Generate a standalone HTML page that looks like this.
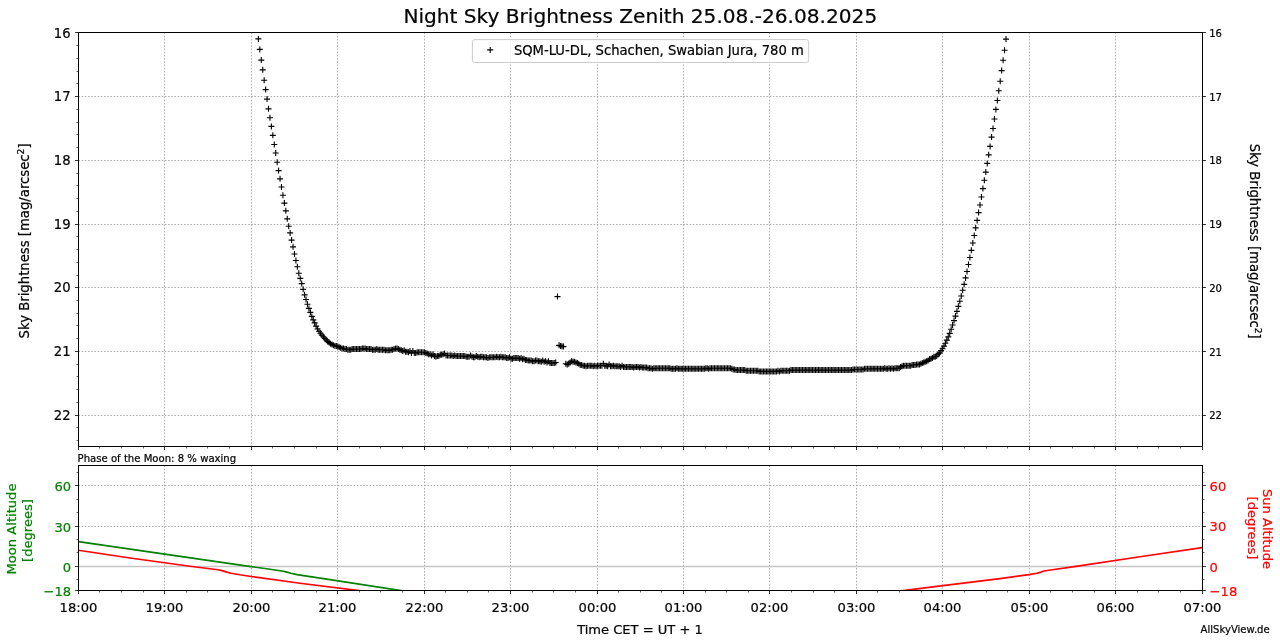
<!DOCTYPE html>
<html lang="en"><head><meta charset="utf-8"><title>Night Sky Brightness Zenith 25.08.-26.08.2025</title>
<style>html,body{margin:0;padding:0;background:#fff}svg{display:block}.t text{stroke-width:0.22px}</style></head>
<body>
<svg width="1280" height="644" viewBox="0 0 1280 644" font-family='"DejaVu Sans","Liberation Sans",sans-serif'>
<rect width="1280" height="644" fill="#fff"/>
<path d="M164.50 32.50V446.50M251.50 32.50V446.50M337.50 32.50V446.50M424.50 32.50V446.50M510.50 32.50V446.50M597.50 32.50V446.50M683.50 32.50V446.50M769.50 32.50V446.50M856.50 32.50V446.50M942.50 32.50V446.50M1029.50 32.50V446.50M1115.50 32.50V446.50M78.50 96.50H1202.50M78.50 160.50H1202.50M78.50 224.50H1202.50M78.50 287.50H1202.50M78.50 351.50H1202.50M78.50 415.50H1202.50" stroke="#9c9c9c" stroke-width="0.8" stroke-dasharray="1.6 1.6" fill="none"/>
<path d="M164.50 465.50V590.50M251.50 465.50V590.50M337.50 465.50V590.50M424.50 465.50V590.50M510.50 465.50V590.50M597.50 465.50V590.50M683.50 465.50V590.50M769.50 465.50V590.50M856.50 465.50V590.50M942.50 465.50V590.50M1029.50 465.50V590.50M1115.50 465.50V590.50M78.50 526.50H1202.50M78.50 485.50H1202.50" stroke="#9c9c9c" stroke-width="0.8" stroke-dasharray="1.6 1.6" fill="none"/>
<path d="M78.50 566.50H1202.50" stroke="#c6c6c6" stroke-width="1.4" fill="none"/>
<path d="M255.40 38.90h6M256.84 49.40h6M258.29 60.10h6M259.73 69.80h6M261.17 80.20h6M262.62 89.60h6M264.06 99.10h6M265.50 108.80h6M266.95 117.70h6M268.39 126.40h6M269.83 135.30h6M271.28 144.50h6M272.72 153.00h6M274.16 162.20h6M275.61 170.60h6M277.05 178.80h6M278.49 187.00h6M279.94 195.20h6M281.38 203.10h6M282.82 210.80h6M284.26 218.80h6M285.71 226.20h6M287.15 232.90h6M288.59 240.10h6M290.04 246.80h6M291.48 254.00h6M292.92 260.50h6M294.37 266.70h6M295.81 273.20h6M297.25 278.40h6M298.70 283.60h6M300.14 289.30h6M301.58 294.80h6M303.03 299.50h6M304.47 304.20h6M305.91 308.40h6M307.36 312.30h6M308.80 316.40h6M310.24 319.90h6M311.69 322.90h6M313.13 326.10h6M314.57 329.00h6M316.02 331.24h6M317.46 333.22h6M318.90 335.07h6M320.35 336.79h6M321.79 338.44h6M323.23 340.01h6M324.68 341.41h6M326.12 342.61h6M327.56 343.69h6M329.01 344.60h6M330.45 345.26h6M331.89 345.77h6M333.34 345.90h6M334.78 346.54h6M336.22 347.18h6M337.66 347.81h6M339.11 348.45h6M340.55 348.45h6M341.99 349.09h6M343.44 349.09h6M344.88 349.73h6M346.32 349.73h6M347.77 349.73h6M349.21 349.09h6M350.65 349.09h6M352.10 349.09h6M353.54 349.09h6M354.98 349.09h6M356.43 349.09h6M357.87 349.09h6M359.31 348.45h6M360.76 348.45h6M362.20 348.45h6M363.64 349.09h6M365.09 349.09h6M366.53 349.09h6M367.97 349.09h6M369.42 349.73h6M370.86 349.73h6M372.30 349.73h6M373.75 349.09h6M375.19 349.73h6M376.63 349.73h6M378.08 349.73h6M379.52 349.73h6M380.96 349.73h6M382.41 350.36h6M383.85 350.36h6M385.29 350.36h6M386.74 350.36h6M388.18 349.73h6M389.62 349.73h6M391.06 349.09h6M392.51 348.45h6M393.95 348.45h6M395.39 349.09h6M396.84 349.73h6M398.28 350.36h6M399.72 351.00h6M401.17 350.36h6M402.61 351.64h6M404.05 351.64h6M405.50 352.27h6M406.94 351.00h6M408.38 352.91h6M409.83 351.00h6M411.27 352.91h6M412.71 352.91h6M414.16 352.27h6M415.60 352.27h6M417.04 352.27h6M418.49 352.27h6M419.93 352.27h6M421.37 352.27h6M422.82 352.91h6M424.26 353.55h6M425.70 354.19h6M427.15 354.19h6M428.59 355.46h6M430.03 354.19h6M431.48 356.10h6M432.92 356.73h6M434.36 356.10h6M435.81 356.10h6M437.25 354.82h6M438.69 354.82h6M440.14 354.19h6M441.58 353.55h6M443.02 355.46h6M444.46 355.46h6M445.91 355.46h6M447.35 355.46h6M448.79 355.46h6M450.24 356.10h6M451.68 355.46h6M453.12 356.10h6M454.57 356.10h6M456.01 356.10h6M457.45 356.10h6M458.90 356.10h6M460.34 356.10h6M461.78 356.10h6M463.23 356.73h6M464.67 356.73h6M466.11 356.73h6M467.56 355.46h6M469.00 356.73h6M470.44 357.37h6M471.89 357.37h6M473.33 356.10h6M474.77 356.73h6M476.22 357.37h6M477.66 356.73h6M479.10 356.73h6M480.55 357.37h6M481.99 357.37h6M483.43 357.37h6M484.88 358.01h6M486.32 357.37h6M487.76 357.37h6M489.21 357.37h6M490.65 357.37h6M492.09 357.37h6M493.54 356.73h6M494.98 357.37h6M496.42 357.37h6M497.86 356.73h6M499.31 357.37h6M500.75 357.37h6M502.19 357.37h6M503.64 358.01h6M505.08 358.01h6M506.52 357.37h6M507.97 358.64h6M509.41 358.64h6M510.85 358.01h6M512.30 358.01h6M513.74 358.01h6M515.18 358.01h6M516.63 358.64h6M518.07 358.01h6M519.51 359.28h6M520.96 358.64h6M522.40 359.92h6M523.84 359.92h6M525.29 360.56h6M526.73 360.56h6M528.17 360.56h6M529.62 361.19h6M531.06 361.19h6M532.50 360.56h6M533.95 360.56h6M535.39 361.19h6M536.83 361.19h6M538.28 361.83h6M539.72 360.56h6M541.16 361.83h6M542.61 361.19h6M544.05 362.47h6M545.49 361.19h6M546.94 363.10h6M548.38 363.10h6M549.82 363.10h6M551.26 363.10h6M552.71 362.47h6M562.81 363.74h6M564.25 364.38h6M565.70 363.74h6M567.14 362.47h6M568.58 361.19h6M570.03 361.83h6M571.47 361.83h6M572.91 362.47h6M574.36 363.10h6M575.80 363.74h6M577.24 365.01h6M578.69 365.01h6M580.13 365.65h6M581.57 365.65h6M583.02 366.29h6M584.46 365.65h6M585.90 365.65h6M587.35 365.65h6M588.79 365.65h6M590.23 366.29h6M591.68 365.65h6M593.12 366.29h6M594.56 365.65h6M596.01 365.65h6M597.45 365.65h6M598.89 365.65h6M600.34 363.74h6M601.78 365.65h6M603.22 365.65h6M604.66 366.29h6M606.11 364.38h6M607.55 366.29h6M608.99 366.29h6M610.44 365.65h6M611.88 366.29h6M613.32 366.29h6M614.77 366.29h6M616.21 366.29h6M617.65 366.93h6M619.10 365.65h6M620.54 366.93h6M621.98 366.93h6M623.43 366.93h6M624.87 366.93h6M626.31 366.93h6M627.76 366.93h6M629.20 366.93h6M630.64 367.56h6M632.09 366.93h6M633.53 366.93h6M634.97 366.93h6M636.42 367.56h6M637.86 366.93h6M639.30 367.56h6M640.75 367.56h6M642.19 367.56h6M643.63 367.56h6M645.08 368.20h6M646.52 368.20h6M647.96 368.20h6M649.41 368.84h6M650.85 368.20h6M652.29 368.20h6M653.74 368.20h6M655.18 368.20h6M656.62 368.20h6M658.06 368.20h6M659.51 368.20h6M660.95 368.20h6M662.39 368.20h6M663.84 368.20h6M665.28 368.20h6M666.72 368.20h6M668.17 368.84h6M669.61 368.84h6M671.05 368.84h6M672.50 368.84h6M673.94 368.20h6M675.38 368.84h6M676.83 368.84h6M678.27 368.84h6M679.71 368.84h6M681.16 368.84h6M682.60 368.84h6M684.04 368.84h6M685.49 368.84h6M686.93 368.84h6M688.37 368.84h6M689.82 368.84h6M691.26 368.84h6M692.70 368.84h6M694.15 368.84h6M695.59 368.84h6M697.03 368.84h6M698.48 368.84h6M699.92 368.84h6M701.36 368.84h6M702.81 368.20h6M704.25 368.20h6M705.69 368.84h6M707.14 368.20h6M708.58 368.20h6M710.02 368.20h6M711.46 368.20h6M712.91 368.20h6M714.35 368.20h6M715.79 368.20h6M717.24 368.20h6M718.68 368.20h6M720.12 368.20h6M721.57 368.20h6M723.01 368.20h6M724.45 368.20h6M725.90 368.20h6M727.34 368.20h6M728.78 368.84h6M730.23 369.47h6M731.67 369.47h6M733.11 370.11h6M734.56 370.11h6M736.00 370.11h6M737.44 370.11h6M738.89 370.11h6M740.33 370.11h6M741.77 370.11h6M743.22 370.75h6M744.66 370.75h6M746.10 370.75h6M747.55 370.75h6M748.99 370.75h6M750.43 370.75h6M751.88 370.75h6M753.32 370.75h6M754.76 370.75h6M756.21 371.38h6M757.65 371.38h6M759.09 371.38h6M760.54 371.38h6M761.98 371.38h6M763.42 371.38h6M764.86 371.38h6M766.31 371.38h6M767.75 371.38h6M769.19 371.38h6M770.64 371.38h6M772.08 371.38h6M773.52 371.38h6M774.97 370.75h6M776.41 371.38h6M777.85 370.75h6M779.30 370.75h6M780.74 370.75h6M782.18 370.75h6M783.63 370.75h6M785.07 370.75h6M786.51 370.75h6M787.96 370.11h6M789.40 370.11h6M790.84 370.11h6M792.29 370.11h6M793.73 370.11h6M795.17 370.11h6M796.62 370.11h6M798.06 370.11h6M799.50 370.11h6M800.95 370.11h6M802.39 370.11h6M803.83 370.11h6M805.28 370.11h6M806.72 370.11h6M808.16 370.11h6M809.61 370.11h6M811.05 370.11h6M812.49 370.11h6M813.94 370.11h6M815.38 370.11h6M816.82 370.11h6M818.26 370.11h6M819.71 370.11h6M821.15 370.11h6M822.59 370.11h6M824.04 370.11h6M825.48 370.11h6M826.92 370.11h6M828.37 370.11h6M829.81 370.11h6M831.25 370.11h6M832.70 370.11h6M834.14 370.11h6M835.58 370.11h6M837.03 370.11h6M838.47 370.11h6M839.91 370.11h6M841.36 370.11h6M842.80 370.11h6M844.24 370.11h6M845.69 370.11h6M847.13 370.11h6M848.57 370.11h6M850.02 369.47h6M851.46 369.47h6M852.90 369.47h6M854.35 369.47h6M855.79 369.47h6M857.23 369.47h6M858.68 369.47h6M860.12 369.47h6M861.56 368.84h6M863.01 368.84h6M864.45 368.84h6M865.89 368.84h6M867.34 368.84h6M868.78 368.84h6M870.22 368.84h6M871.66 368.84h6M873.11 368.84h6M874.55 368.84h6M875.99 368.84h6M877.44 368.84h6M878.88 368.84h6M880.32 368.84h6M881.77 368.20h6M883.21 368.84h6M884.65 368.84h6M886.10 368.20h6M887.54 368.84h6M888.98 368.20h6M890.43 368.84h6M891.87 368.20h6M893.31 368.20h6M894.76 368.20h6M896.20 368.20h6M897.64 366.93h6M899.09 366.29h6M900.53 365.65h6M901.97 365.65h6M903.42 365.65h6M904.86 365.65h6M906.30 365.65h6M907.75 365.65h6M909.19 365.01h6M910.63 365.01h6M912.08 365.01h6M913.52 364.38h6M914.96 364.38h6M916.41 364.38h6M917.85 363.74h6M919.29 363.10h6M920.74 362.47h6M922.18 361.83h6M923.62 361.19h6M925.06 360.56h6M926.51 359.28h6M927.95 358.64h6M929.39 358.01h6M930.84 356.73h6M932.28 356.73h6M933.72 356.10h6M935.17 354.19h6M936.61 352.91h6M938.05 350.60h6M939.50 348.70h6M940.94 346.10h6M942.38 343.20h6M943.83 340.10h6M945.27 336.90h6M946.71 333.30h6M948.16 329.20h6M949.60 325.00h6M951.04 320.60h6M952.49 316.10h6M953.93 311.30h6M955.37 306.30h6M956.82 301.20h6M958.26 296.00h6M959.70 290.20h6M961.15 284.30h6M962.59 277.90h6M964.03 271.50h6M965.48 264.50h6M966.92 257.50h6M968.36 250.30h6M969.81 243.00h6M971.25 235.50h6M972.69 227.90h6M974.14 220.40h6M975.58 212.60h6M977.02 205.00h6M978.46 197.00h6M979.91 188.60h6M981.35 180.20h6M982.79 172.10h6M984.24 163.40h6M985.68 154.80h6M987.12 146.40h6M988.57 137.10h6M990.01 128.50h6M991.45 119.00h6M992.90 109.40h6M994.34 100.50h6M995.78 90.70h6M997.23 81.20h6M998.67 70.60h6M1000.11 60.20h6M1001.56 50.20h6M1003.00 39.10h6M554.50 296.60h6M556.10 345.30h6M557.55 345.90h6M559.00 346.30h6M560.45 346.60h6" stroke="#000" stroke-width="1.15" fill="none"/>
<path d="M258.40 35.90v6M259.84 46.40v6M261.29 57.10v6M262.73 66.80v6M264.17 77.20v6M265.62 86.60v6M267.06 96.10v6M268.50 105.80v6M269.95 114.70v6M271.39 123.40v6M272.83 132.30v6M274.28 141.50v6M275.72 150.00v6M277.16 159.20v6M278.61 167.60v6M280.05 175.80v6M281.49 184.00v6M282.94 192.20v6M284.38 200.10v6M285.82 207.80v6M287.26 215.80v6M288.71 223.20v6M290.15 229.90v6M291.59 237.10v6M293.04 243.80v6M294.48 251.00v6M295.92 257.50v6M297.37 263.70v6M298.81 270.20v6M300.25 275.40v6M301.70 280.60v6M303.14 286.30v6M304.58 291.80v6M306.03 296.50v6M307.47 301.20v6M308.91 305.40v6M310.36 309.30v6M311.80 313.40v6M313.24 316.90v6M314.69 319.90v6M316.13 323.10v6M317.57 326.00v6M319.02 328.24v6M320.46 330.22v6M321.90 332.07v6M323.35 333.79v6M324.79 335.44v6M326.23 337.01v6M327.68 338.41v6M329.12 339.61v6M330.56 340.69v6M332.01 341.60v6M333.45 342.26v6M334.89 342.77v6M336.34 342.90v6M337.78 343.54v6M339.22 344.18v6M340.66 344.81v6M342.11 345.45v6M343.55 345.45v6M344.99 346.09v6M346.44 346.09v6M347.88 346.73v6M349.32 346.73v6M350.77 346.73v6M352.21 346.09v6M353.65 346.09v6M355.10 346.09v6M356.54 346.09v6M357.98 346.09v6M359.43 346.09v6M360.87 346.09v6M362.31 345.45v6M363.76 345.45v6M365.20 345.45v6M366.64 346.09v6M368.09 346.09v6M369.53 346.09v6M370.97 346.09v6M372.42 346.73v6M373.86 346.73v6M375.30 346.73v6M376.75 346.09v6M378.19 346.73v6M379.63 346.73v6M381.08 346.73v6M382.52 346.73v6M383.96 346.73v6M385.41 347.36v6M386.85 347.36v6M388.29 347.36v6M389.74 347.36v6M391.18 346.73v6M392.62 346.73v6M394.06 346.09v6M395.51 345.45v6M396.95 345.45v6M398.39 346.09v6M399.84 346.73v6M401.28 347.36v6M402.72 348.00v6M404.17 347.36v6M405.61 348.64v6M407.05 348.64v6M408.50 349.27v6M409.94 348.00v6M411.38 349.91v6M412.83 348.00v6M414.27 349.91v6M415.71 349.91v6M417.16 349.27v6M418.60 349.27v6M420.04 349.27v6M421.49 349.27v6M422.93 349.27v6M424.37 349.27v6M425.82 349.91v6M427.26 350.55v6M428.70 351.19v6M430.15 351.19v6M431.59 352.46v6M433.03 351.19v6M434.48 353.10v6M435.92 353.73v6M437.36 353.10v6M438.81 353.10v6M440.25 351.82v6M441.69 351.82v6M443.14 351.19v6M444.58 350.55v6M446.02 352.46v6M447.46 352.46v6M448.91 352.46v6M450.35 352.46v6M451.79 352.46v6M453.24 353.10v6M454.68 352.46v6M456.12 353.10v6M457.57 353.10v6M459.01 353.10v6M460.45 353.10v6M461.90 353.10v6M463.34 353.10v6M464.78 353.10v6M466.23 353.73v6M467.67 353.73v6M469.11 353.73v6M470.56 352.46v6M472.00 353.73v6M473.44 354.37v6M474.89 354.37v6M476.33 353.10v6M477.77 353.73v6M479.22 354.37v6M480.66 353.73v6M482.10 353.73v6M483.55 354.37v6M484.99 354.37v6M486.43 354.37v6M487.88 355.01v6M489.32 354.37v6M490.76 354.37v6M492.21 354.37v6M493.65 354.37v6M495.09 354.37v6M496.54 353.73v6M497.98 354.37v6M499.42 354.37v6M500.86 353.73v6M502.31 354.37v6M503.75 354.37v6M505.19 354.37v6M506.64 355.01v6M508.08 355.01v6M509.52 354.37v6M510.97 355.64v6M512.41 355.64v6M513.85 355.01v6M515.30 355.01v6M516.74 355.01v6M518.18 355.01v6M519.63 355.64v6M521.07 355.01v6M522.51 356.28v6M523.96 355.64v6M525.40 356.92v6M526.84 356.92v6M528.29 357.56v6M529.73 357.56v6M531.17 357.56v6M532.62 358.19v6M534.06 358.19v6M535.50 357.56v6M536.95 357.56v6M538.39 358.19v6M539.83 358.19v6M541.28 358.83v6M542.72 357.56v6M544.16 358.83v6M545.61 358.19v6M547.05 359.47v6M548.49 358.19v6M549.94 360.10v6M551.38 360.10v6M552.82 360.10v6M554.26 360.10v6M555.71 359.47v6M565.81 360.74v6M567.25 361.38v6M568.70 360.74v6M570.14 359.47v6M571.58 358.19v6M573.03 358.83v6M574.47 358.83v6M575.91 359.47v6M577.36 360.10v6M578.80 360.74v6M580.24 362.01v6M581.69 362.01v6M583.13 362.65v6M584.57 362.65v6M586.02 363.29v6M587.46 362.65v6M588.90 362.65v6M590.35 362.65v6M591.79 362.65v6M593.23 363.29v6M594.68 362.65v6M596.12 363.29v6M597.56 362.65v6M599.01 362.65v6M600.45 362.65v6M601.89 362.65v6M603.34 360.74v6M604.78 362.65v6M606.22 362.65v6M607.66 363.29v6M609.11 361.38v6M610.55 363.29v6M611.99 363.29v6M613.44 362.65v6M614.88 363.29v6M616.32 363.29v6M617.77 363.29v6M619.21 363.29v6M620.65 363.93v6M622.10 362.65v6M623.54 363.93v6M624.98 363.93v6M626.43 363.93v6M627.87 363.93v6M629.31 363.93v6M630.76 363.93v6M632.20 363.93v6M633.64 364.56v6M635.09 363.93v6M636.53 363.93v6M637.97 363.93v6M639.42 364.56v6M640.86 363.93v6M642.30 364.56v6M643.75 364.56v6M645.19 364.56v6M646.63 364.56v6M648.08 365.20v6M649.52 365.20v6M650.96 365.20v6M652.41 365.84v6M653.85 365.20v6M655.29 365.20v6M656.74 365.20v6M658.18 365.20v6M659.62 365.20v6M661.06 365.20v6M662.51 365.20v6M663.95 365.20v6M665.39 365.20v6M666.84 365.20v6M668.28 365.20v6M669.72 365.20v6M671.17 365.84v6M672.61 365.84v6M674.05 365.84v6M675.50 365.84v6M676.94 365.20v6M678.38 365.84v6M679.83 365.84v6M681.27 365.84v6M682.71 365.84v6M684.16 365.84v6M685.60 365.84v6M687.04 365.84v6M688.49 365.84v6M689.93 365.84v6M691.37 365.84v6M692.82 365.84v6M694.26 365.84v6M695.70 365.84v6M697.15 365.84v6M698.59 365.84v6M700.03 365.84v6M701.48 365.84v6M702.92 365.84v6M704.36 365.84v6M705.81 365.20v6M707.25 365.20v6M708.69 365.84v6M710.14 365.20v6M711.58 365.20v6M713.02 365.20v6M714.46 365.20v6M715.91 365.20v6M717.35 365.20v6M718.79 365.20v6M720.24 365.20v6M721.68 365.20v6M723.12 365.20v6M724.57 365.20v6M726.01 365.20v6M727.45 365.20v6M728.90 365.20v6M730.34 365.20v6M731.78 365.84v6M733.23 366.47v6M734.67 366.47v6M736.11 367.11v6M737.56 367.11v6M739.00 367.11v6M740.44 367.11v6M741.89 367.11v6M743.33 367.11v6M744.77 367.11v6M746.22 367.75v6M747.66 367.75v6M749.10 367.75v6M750.55 367.75v6M751.99 367.75v6M753.43 367.75v6M754.88 367.75v6M756.32 367.75v6M757.76 367.75v6M759.21 368.38v6M760.65 368.38v6M762.09 368.38v6M763.54 368.38v6M764.98 368.38v6M766.42 368.38v6M767.86 368.38v6M769.31 368.38v6M770.75 368.38v6M772.19 368.38v6M773.64 368.38v6M775.08 368.38v6M776.52 368.38v6M777.97 367.75v6M779.41 368.38v6M780.85 367.75v6M782.30 367.75v6M783.74 367.75v6M785.18 367.75v6M786.63 367.75v6M788.07 367.75v6M789.51 367.75v6M790.96 367.11v6M792.40 367.11v6M793.84 367.11v6M795.29 367.11v6M796.73 367.11v6M798.17 367.11v6M799.62 367.11v6M801.06 367.11v6M802.50 367.11v6M803.95 367.11v6M805.39 367.11v6M806.83 367.11v6M808.28 367.11v6M809.72 367.11v6M811.16 367.11v6M812.61 367.11v6M814.05 367.11v6M815.49 367.11v6M816.94 367.11v6M818.38 367.11v6M819.82 367.11v6M821.26 367.11v6M822.71 367.11v6M824.15 367.11v6M825.59 367.11v6M827.04 367.11v6M828.48 367.11v6M829.92 367.11v6M831.37 367.11v6M832.81 367.11v6M834.25 367.11v6M835.70 367.11v6M837.14 367.11v6M838.58 367.11v6M840.03 367.11v6M841.47 367.11v6M842.91 367.11v6M844.36 367.11v6M845.80 367.11v6M847.24 367.11v6M848.69 367.11v6M850.13 367.11v6M851.57 367.11v6M853.02 366.47v6M854.46 366.47v6M855.90 366.47v6M857.35 366.47v6M858.79 366.47v6M860.23 366.47v6M861.68 366.47v6M863.12 366.47v6M864.56 365.84v6M866.01 365.84v6M867.45 365.84v6M868.89 365.84v6M870.34 365.84v6M871.78 365.84v6M873.22 365.84v6M874.66 365.84v6M876.11 365.84v6M877.55 365.84v6M878.99 365.84v6M880.44 365.84v6M881.88 365.84v6M883.32 365.84v6M884.77 365.20v6M886.21 365.84v6M887.65 365.84v6M889.10 365.20v6M890.54 365.84v6M891.98 365.20v6M893.43 365.84v6M894.87 365.20v6M896.31 365.20v6M897.76 365.20v6M899.20 365.20v6M900.64 363.93v6M902.09 363.29v6M903.53 362.65v6M904.97 362.65v6M906.42 362.65v6M907.86 362.65v6M909.30 362.65v6M910.75 362.65v6M912.19 362.01v6M913.63 362.01v6M915.08 362.01v6M916.52 361.38v6M917.96 361.38v6M919.41 361.38v6M920.85 360.74v6M922.29 360.10v6M923.74 359.47v6M925.18 358.83v6M926.62 358.19v6M928.06 357.56v6M929.51 356.28v6M930.95 355.64v6M932.39 355.01v6M933.84 353.73v6M935.28 353.73v6M936.72 353.10v6M938.17 351.19v6M939.61 349.91v6M941.05 347.60v6M942.50 345.70v6M943.94 343.10v6M945.38 340.20v6M946.83 337.10v6M948.27 333.90v6M949.71 330.30v6M951.16 326.20v6M952.60 322.00v6M954.04 317.60v6M955.49 313.10v6M956.93 308.30v6M958.37 303.30v6M959.82 298.20v6M961.26 293.00v6M962.70 287.20v6M964.15 281.30v6M965.59 274.90v6M967.03 268.50v6M968.48 261.50v6M969.92 254.50v6M971.36 247.30v6M972.81 240.00v6M974.25 232.50v6M975.69 224.90v6M977.14 217.40v6M978.58 209.60v6M980.02 202.00v6M981.46 194.00v6M982.91 185.60v6M984.35 177.20v6M985.79 169.10v6M987.24 160.40v6M988.68 151.80v6M990.12 143.40v6M991.57 134.10v6M993.01 125.50v6M994.45 116.00v6M995.90 106.40v6M997.34 97.50v6M998.78 87.70v6M1000.23 78.20v6M1001.67 67.60v6M1003.11 57.20v6M1004.56 47.20v6M1006.00 36.10v6M557.50 293.60v6M559.10 342.30v6M560.55 342.90v6M562.00 343.30v6M563.45 343.60v6" stroke="#000" stroke-width="1.1" fill="none"/>
<clipPath id="c2"><rect x="78.50" y="465.50" width="1124.00" height="125.00"/></clipPath>
<g clip-path="url(#c2)" fill="none" stroke-width="1.65" stroke-linejoin="round">
<path d="M78.45 541.60L251.00 566.60L270.00 569.20L282.00 571.00L286.00 571.90L291.00 573.30L297.00 574.60L330.00 579.60L401.00 590.60L420.00 593.50" stroke="#008000"/>
<path d="M78.45 550.30L130.00 558.00L190.00 566.30L218.00 569.80L222.00 570.60L226.00 571.90L231.00 573.20L240.00 574.80L251.00 576.50L300.00 583.30L359.00 590.60L380.00 593.20" stroke="#ff0000"/>
<path d="M880.00 593.50L903.30 590.60L943.00 585.60L1000.00 578.60L1029.00 574.60L1037.00 573.20L1041.00 572.10L1044.00 571.00L1049.00 570.30L1076.00 566.40L1140.00 556.80L1202.15 547.60" stroke="#ff0000"/>
</g>
<path d="M78.50 446.50v3.5M78.50 590.50v3.5M164.50 446.50v3.5M164.50 590.50v3.5M251.50 446.50v3.5M251.50 590.50v3.5M337.50 446.50v3.5M337.50 590.50v3.5M424.50 446.50v3.5M424.50 590.50v3.5M510.50 446.50v3.5M510.50 590.50v3.5M597.50 446.50v3.5M597.50 590.50v3.5M683.50 446.50v3.5M683.50 590.50v3.5M769.50 446.50v3.5M769.50 590.50v3.5M856.50 446.50v3.5M856.50 590.50v3.5M942.50 446.50v3.5M942.50 590.50v3.5M1029.50 446.50v3.5M1029.50 590.50v3.5M1115.50 446.50v3.5M1115.50 590.50v3.5M1202.50 446.50v3.5M1202.50 590.50v3.5M78.50 32.50h-3.5M1202.50 32.50h3.5M78.50 96.50h-3.5M1202.50 96.50h3.5M78.50 160.50h-3.5M1202.50 160.50h3.5M78.50 224.50h-3.5M1202.50 224.50h3.5M78.50 287.50h-3.5M1202.50 287.50h3.5M78.50 351.50h-3.5M1202.50 351.50h3.5M78.50 415.50h-3.5M1202.50 415.50h3.5M78.50 485.50h-3.5M1202.50 485.50h3.5M78.50 526.50h-3.5M1202.50 526.50h3.5M78.50 566.50h-3.5M1202.50 566.50h3.5M78.50 590.50h-3.5M1202.50 590.50h3.5" stroke="#000" stroke-width="0.8" fill="none"/>
<path d="M99.50 446.50v2M99.50 590.50v2M121.50 446.50v2M121.50 590.50v2M143.50 446.50v2M143.50 590.50v2M186.50 446.50v2M186.50 590.50v2M207.50 446.50v2M207.50 590.50v2M229.50 446.50v2M229.50 590.50v2M272.50 446.50v2M272.50 590.50v2M294.50 446.50v2M294.50 590.50v2M316.50 446.50v2M316.50 590.50v2M359.50 446.50v2M359.50 590.50v2M380.50 446.50v2M380.50 590.50v2M402.50 446.50v2M402.50 590.50v2M445.50 446.50v2M445.50 590.50v2M467.50 446.50v2M467.50 590.50v2M488.50 446.50v2M488.50 590.50v2M532.50 446.50v2M532.50 590.50v2M553.50 446.50v2M553.50 590.50v2M575.50 446.50v2M575.50 590.50v2M618.50 446.50v2M618.50 590.50v2M640.50 446.50v2M640.50 590.50v2M661.50 446.50v2M661.50 590.50v2M705.50 446.50v2M705.50 590.50v2M726.50 446.50v2M726.50 590.50v2M748.50 446.50v2M748.50 590.50v2M791.50 446.50v2M791.50 590.50v2M813.50 446.50v2M813.50 590.50v2M834.50 446.50v2M834.50 590.50v2M877.50 446.50v2M877.50 590.50v2M899.50 446.50v2M899.50 590.50v2M921.50 446.50v2M921.50 590.50v2M964.50 446.50v2M964.50 590.50v2M986.50 446.50v2M986.50 590.50v2M1007.50 446.50v2M1007.50 590.50v2M1050.50 446.50v2M1050.50 590.50v2M1072.50 446.50v2M1072.50 590.50v2M1094.50 446.50v2M1094.50 590.50v2M1137.50 446.50v2M1137.50 590.50v2M1158.50 446.50v2M1158.50 590.50v2M1180.50 446.50v2M1180.50 590.50v2M78.50 45.50h-2M78.50 58.50h-2M78.50 71.50h-2M78.50 83.50h-2M78.50 109.50h-2M78.50 122.50h-2M78.50 134.50h-2M78.50 147.50h-2M78.50 173.50h-2M78.50 185.50h-2M78.50 198.50h-2M78.50 211.50h-2M78.50 236.50h-2M78.50 249.50h-2M78.50 262.50h-2M78.50 275.50h-2M78.50 300.50h-2M78.50 313.50h-2M78.50 325.50h-2M78.50 338.50h-2M78.50 364.50h-2M78.50 376.50h-2M78.50 389.50h-2M78.50 402.50h-2M78.50 427.50h-2M78.50 440.50h-2M78.50 472.50h-2M1202.50 472.50h2M78.50 499.50h-2M1202.50 499.50h2M78.50 512.50h-2M1202.50 512.50h2M78.50 539.50h-2M1202.50 539.50h2M78.50 552.50h-2M1202.50 552.50h2M78.50 579.50h-2M1202.50 579.50h2" stroke="#000" stroke-width="0.6" fill="none"/>
<rect x="78.50" y="32.50" width="1124.00" height="414.00" fill="none" stroke="#000" stroke-width="1"/>
<rect x="78.50" y="465.50" width="1124.00" height="125.00" fill="none" stroke="#000" stroke-width="1"/>
<g opacity="0.999" class="t">
<rect x="472.4" y="39.6" width="336.3" height="22.9" rx="2.2" ry="2.2" fill="#fff" fill-opacity="0.8" stroke="#ccc" stroke-width="1"/>
<path d="M487.2 49.9h6M490.2 46.9v6" stroke="#000" stroke-width="1.1" fill="none"/>
<text x="513.9" y="54.6" font-size="13.17" stroke="#000">SQM-LU-DL, Schachen, Swabian Jura, 780 m</text>
<text x="640.3" y="23" font-size="20.12" text-anchor="middle" stroke="#000">Night Sky Brightness Zenith 25.08.-26.08.2025</text>
<text x="78.45" y="611.7" font-size="13.1" text-anchor="middle" stroke="#000">18:00</text>
<text x="164.45" y="611.7" font-size="13.1" text-anchor="middle" stroke="#000">19:00</text>
<text x="251.45" y="611.7" font-size="13.1" text-anchor="middle" stroke="#000">20:00</text>
<text x="337.45" y="611.7" font-size="13.1" text-anchor="middle" stroke="#000">21:00</text>
<text x="424.45" y="611.7" font-size="13.1" text-anchor="middle" stroke="#000">22:00</text>
<text x="510.45" y="611.7" font-size="13.1" text-anchor="middle" stroke="#000">23:00</text>
<text x="597.45" y="611.7" font-size="13.1" text-anchor="middle" stroke="#000">00:00</text>
<text x="683.45" y="611.7" font-size="13.1" text-anchor="middle" stroke="#000">01:00</text>
<text x="769.45" y="611.7" font-size="13.1" text-anchor="middle" stroke="#000">02:00</text>
<text x="856.45" y="611.7" font-size="13.1" text-anchor="middle" stroke="#000">03:00</text>
<text x="942.45" y="611.7" font-size="13.1" text-anchor="middle" stroke="#000">04:00</text>
<text x="1029.45" y="611.7" font-size="13.1" text-anchor="middle" stroke="#000">05:00</text>
<text x="1115.45" y="611.7" font-size="13.1" text-anchor="middle" stroke="#000">06:00</text>
<text x="1202.45" y="611.7" font-size="13.1" text-anchor="middle" stroke="#000">07:00</text>
<text x="70.6" y="37.65" font-size="13.2" text-anchor="end" stroke="#000">16</text>
<text x="1209.2" y="37.05" font-size="10"  stroke="#000">16</text>
<text x="70.6" y="101.35" font-size="13.2" text-anchor="end" stroke="#000">17</text>
<text x="1209.2" y="100.75" font-size="10"  stroke="#000">17</text>
<text x="70.6" y="165.05" font-size="13.2" text-anchor="end" stroke="#000">18</text>
<text x="1209.2" y="164.45" font-size="10"  stroke="#000">18</text>
<text x="70.6" y="228.75" font-size="13.2" text-anchor="end" stroke="#000">19</text>
<text x="1209.2" y="228.15" font-size="10"  stroke="#000">19</text>
<text x="70.6" y="292.45" font-size="13.2" text-anchor="end" stroke="#000">20</text>
<text x="1209.2" y="291.85" font-size="10"  stroke="#000">20</text>
<text x="70.6" y="356.15" font-size="13.2" text-anchor="end" stroke="#000">21</text>
<text x="1209.2" y="355.55" font-size="10"  stroke="#000">21</text>
<text x="70.6" y="419.85" font-size="13.2" text-anchor="end" stroke="#000">22</text>
<text x="1209.2" y="419.25" font-size="10"  stroke="#000">22</text>
<text x="71.2" y="491.26" font-size="13.1" text-anchor="end" fill="#008000" stroke="#008000">60</text>
<text x="1209.6" y="490.96" font-size="13.1" fill="#ff0000" stroke="#ff0000">60</text>
<text x="71.2" y="531.56" font-size="13.1" text-anchor="end" fill="#008000" stroke="#008000">30</text>
<text x="1209.6" y="531.26" font-size="13.1" fill="#ff0000" stroke="#ff0000">30</text>
<text x="71.2" y="571.87" font-size="13.1" text-anchor="end" fill="#008000" stroke="#008000">0</text>
<text x="1209.6" y="571.57" font-size="13.1" fill="#ff0000" stroke="#ff0000">0</text>
<text x="71.2" y="596.05" font-size="13.1" text-anchor="end" fill="#008000" stroke="#008000">−18</text>
<text x="1209.6" y="595.75" font-size="13.1" fill="#ff0000" stroke="#ff0000">−18</text>
<text x="640" y="634.1" font-size="13.05" text-anchor="middle" stroke="#000">Time CET = UT + 1</text>
<text x="77.6" y="462" font-size="10.1" stroke="#000">Phase of the Moon: 8 % waxing</text>
<text x="1200.5" y="633" font-size="10.1" stroke="#000">AllSkyView.de</text>
<text transform="translate(29.2 240.9) rotate(-90)" font-size="13.22" text-anchor="middle" stroke="#000">Sky Brightness [mag/arcsec<tspan dy="-5" font-size="9.2">2</tspan><tspan dy="5">]</tspan></text>
<text transform="translate(1249.5 241.2) rotate(90)" font-size="13.22" text-anchor="middle" stroke="#000">Sky Brightness [mag/arcsec<tspan dy="-5" font-size="9.2">2</tspan><tspan dy="5">]</tspan></text>
<text transform="translate(15.8 529) rotate(-90)" font-size="13.1" text-anchor="middle" fill="#008000" stroke="#008000">Moon Altitude</text>
<text transform="translate(31.8 530.5) rotate(-90)" font-size="13.1" text-anchor="middle" fill="#008000" stroke="#008000">[degrees]</text>
<text transform="translate(1262.5 529) rotate(90)" font-size="13.1" text-anchor="middle" fill="#ff0000" stroke="#ff0000">Sun Altitude</text>
<text transform="translate(1247.5 528) rotate(90)" font-size="13.1" text-anchor="middle" fill="#ff0000" stroke="#ff0000">[degrees]</text>
</g>
</svg>
</body></html>
